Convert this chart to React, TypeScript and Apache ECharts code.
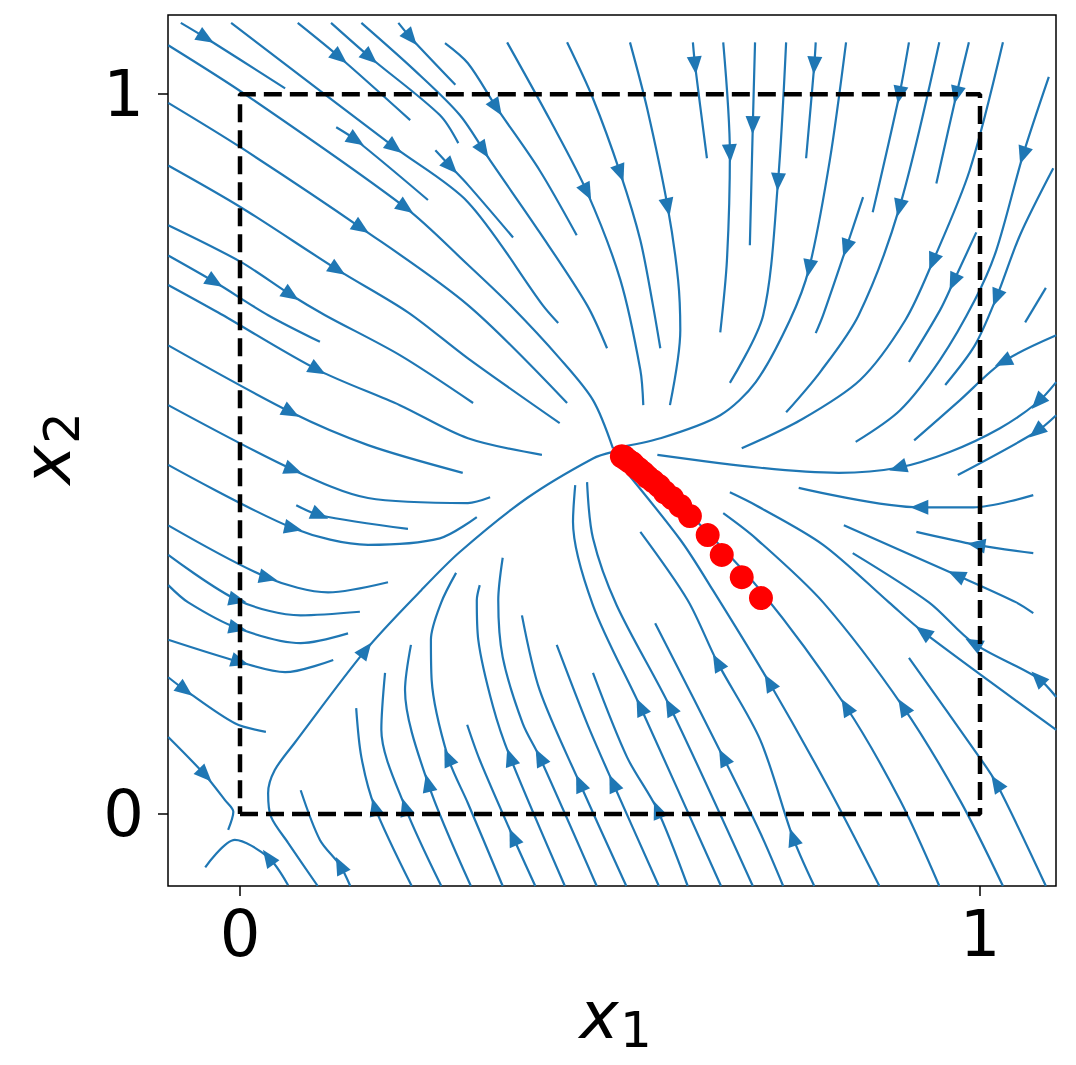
import React, { useEffect, useRef } from "react";
import * as echarts from "echarts";

type Pt = [number, number];

const BLUE = "#1f77b4";

const xTicks = [0, 1];
const yTicks = [0, 1];
const xRange: Pt = [-0.0973, 1.1027];
const yRange: Pt = [-0.1, 1.11];

// streamlines from the upper-left (flowing down-right)
const upperLeftLines: Pt[][] = [
  [[-0.080, 1.099], [-0.046, 1.078], [0.061, 1.008]],
  [[-0.097, 1.068], [0.008, 0.999], [0.224, 0.842], [0.308, 0.763], [0.365, 0.707], [0.432, 0.633], [0.477, 0.575], [0.504, 0.508]],
  [[-0.012, 1.099], [0.209, 0.926], [0.308, 0.850], [0.409, 0.707], [0.430, 0.682]],
  [[0.078, 1.099], [0.135, 1.051], [0.230, 0.964]],
  [[0.123, 1.099], [0.176, 1.051], [0.270, 0.971], [0.295, 0.932]],
  [[0.164, 1.099], [0.236, 1.033], [0.297, 0.971], [0.338, 0.908], [0.405, 0.808], [0.469, 0.707], [0.496, 0.647]],
  [[0.214, 1.099], [0.231, 1.078], [0.291, 1.013]],
  [[0.277, 1.071], [0.308, 1.043], [0.347, 0.981], [0.405, 0.894], [0.455, 0.804]],
  [[0.130, 0.954], [0.157, 0.936], [0.254, 0.853]],
  [[0.264, 0.922], [0.285, 0.899], [0.308, 0.874], [0.369, 0.801]],
  [[-0.097, 0.988], [0.001, 0.926], [0.164, 0.814], [0.308, 0.707], [0.442, 0.571]],
  [[-0.097, 0.901], [0.001, 0.843], [0.132, 0.756], [0.227, 0.697], [0.308, 0.633], [0.432, 0.543]],
  [[-0.097, 0.818], [0.001, 0.767], [0.069, 0.721], [0.115, 0.693], [0.216, 0.6375], [0.315, 0.571]],
  [[-0.097, 0.776], [-0.034, 0.739], [0.038, 0.693], [0.108, 0.656]],
  [[-0.097, 0.735], [-0.030, 0.697], [0.105, 0.617], [0.216, 0.568], [0.308, 0.522], [0.408, 0.499]],
  [[-0.097, 0.651], [0.069, 0.558], [0.173, 0.5125], [0.301, 0.474]],
  [[-0.097, 0.568], [0.072, 0.478], [0.173, 0.439], [0.308, 0.432], [0.338, 0.440]],
  [[0.076, 0.429], [0.108, 0.415], [0.227, 0.396]],
  [[-0.097, 0.485], [0.072, 0.397], [0.173, 0.374], [0.270, 0.383], [0.320, 0.4125]],
  [[-0.097, 0.401], [0.038, 0.328], [0.119, 0.308], [0.2, 0.322]],
  [[-0.097, 0.360], [-0.003, 0.297], [0.082, 0.276], [0.162, 0.281]],
  [[-0.097, 0.318], [-0.070, 0.294], [-0.003, 0.258], [0.082, 0.2375], [0.146, 0.251]],
  [[-0.097, 0.242], [0, 0.211], [0.061, 0.197], [0.126, 0.214]],
  [[-0.097, 0.190], [-0.074, 0.172], [-0.007, 0.126], [0.035, 0.114]],
  [[-0.097, 0.107], [-0.047, 0.054], [-0.020, 0.019], [-0.009, 0.003], [-0.016, -0.022]],
  [[0.065, -0.099], [0.038, -0.060], [-0.007, -0.036], [-0.047, -0.074]],
];

// separatrix rising from the bottom to the fixed point
const separatrix: Pt[] = [
  [0.105, -0.1], [0.065, -0.040], [0.042, -0.004], [0.038, 0.029], [0.047, 0.061], [0.074, 0.099],
  [0.170, 0.228], [0.245, 0.311], [0.297, 0.364], [0.388, 0.439], [0.477, 0.494], [0.504, 0.503],
];

// streamlines from the top (flowing down)
const topLines: Pt[][] = [
  [[0.361, 1.072], [0.419, 0.964], [0.469, 0.864], [0.514, 0.742], [0.541, 0.617], [0.545, 0.568]],
  [[0.442, 1.072], [0.477, 0.994], [0.514, 0.890], [0.541, 0.797], [0.558, 0.707], [0.568, 0.647]],
  [[0.527, 1.072], [0.55, 0.981], [0.578, 0.843], [0.592, 0.742], [0.595, 0.672], [0.581, 0.568]],
  [[0.612, 1.072], [0.615, 1.040], [0.631, 0.911]],
  [[0.653, 1.072], [0.662, 0.918], [0.658, 0.769], [0.649, 0.669]],
  [[0.696, 1.072], [0.693, 0.957], [0.689, 0.790]],
  [[0.738, 1.072], [0.727, 0.878], [0.707, 0.693], [0.662, 0.599]],
  [[0.778, 1.072], [0.776, 1.040], [0.765, 0.911]],
  [[0.904, 1.072], [0.891, 0.999], [0.855, 0.836]],
  [[0.985, 1.072], [0.968, 0.999], [0.941, 0.876]],
];

// streamlines from the upper-right (flowing down-left)
const topRightLines: Pt[][] = [
  [[0.819, 1.072], [0.797, 0.908], [0.769, 0.758], [0.743, 0.686], [0.697, 0.6], [0.649, 0.554], [0.568, 0.522], [0.504, 0.508]],
  [[0.842, 0.857], [0.819, 0.786], [0.788, 0.693], [0.778, 0.668]],
  [[0.945, 1.072], [0.891, 0.842], [0.836, 0.693], [0.784, 0.614], [0.738, 0.558]],
  [[1.031, 1.072], [0.986, 0.894], [0.936, 0.767], [0.899, 0.686], [0.838, 0.603], [0.757, 0.547], [0.678, 0.508]],
  [[0.995, 0.808], [0.964, 0.739], [0.946, 0.7], [0.904, 0.628]],
  [[1.093, 1.024], [1.058, 0.915], [1.022, 0.783], [0.993, 0.714], [0.946, 0.631], [0.892, 0.561], [0.832, 0.517]],
  [[1.099, 0.897], [1.054, 0.804], [1.022, 0.717], [0.993, 0.651], [0.953, 0.596]],
  [[1.103, 0.665], [1.031, 0.628], [0.973, 0.575], [0.911, 0.519]],
  [[1.103, 0.6], [1.078, 0.572], [1.027, 0.536], [0.959, 0.503], [0.889, 0.481], [0.809, 0.474], [0.703, 0.481], [0.564, 0.499]],
  [[1.103, 0.554], [1.076, 0.531], [0.970, 0.471]],
  [[1.089, 0.731], [1.061, 0.683]],
];

// streamlines from the right (flowing left / up-left)
const rightLines: Pt[][] = [
  [[1.072, 0.443], [0.991, 0.426], [0.918, 0.426], [0.755, 0.453]],
  [[1.072, 0.3625], [0.995, 0.374], [0.914, 0.392]],
  [[1.072, 0.279], [1.049, 0.294], [0.968, 0.332], [0.816, 0.401]],
  [[1.103, 0.1625], [1.078, 0.189], [0.991, 0.2375], [0.931, 0.294], [0.828, 0.3625]],
  [[1.103, 0.117], [0.923, 0.253], [0.877, 0.294], [0.788, 0.374], [0.697, 0.429], [0.662, 0.447]],
  [[1.089, -0.1], [1.022, 0.043], [0.995, 0.085], [0.904, 0.217]],
];

// streamlines from the bottom (flowing up-left)
const bottomLines: Pt[][] = [
  [[1.031, -0.1], [0.973, 0.019], [0.896, 0.149], [0.788, 0.294], [0.697, 0.383], [0.653, 0.418]],
  [[0.945, -0.1], [0.892, 0.019], [0.819, 0.149], [0.703, 0.311], [0.592, 0.433]],
  [[0.864, -0.1], [0.797, 0.033], [0.715, 0.183], [0.639, 0.311], [0.595, 0.381], [0.511, 0.489]],
  [[0.776, -0.1], [0.747, -0.032], [0.703, 0.103], [0.645, 0.211], [0.605, 0.297], [0.541, 0.392]],
  [[0.734, -0.1], [0.703, -0.026], [0.653, 0.079], [0.561, 0.265]],
  [[0.693, -0.1], [0.581, 0.149], [0.509, 0.290], [0.477, 0.383], [0.469, 0.461]],
  [[0.65, -0.1], [0.541, 0.149], [0.477, 0.290], [0.45, 0.406], [0.453, 0.457]],
  [[0.605, -0.1], [0.564, 0.006], [0.523, 0.079], [0.477, 0.196]],
  [[0.566, -0.1], [0.504, 0.043], [0.469, 0.126], [0.428, 0.235]],
  [[0.522, -0.1], [0.459, 0.043], [0.405, 0.172], [0.381, 0.276]],
  [[0.482, -0.1], [0.405, 0.079], [0.382, 0.126], [0.355, 0.218], [0.349, 0.297], [0.355, 0.356]],
  [[0.439, -0.1], [0.365, 0.079], [0.342, 0.149], [0.322, 0.242], [0.320, 0.297], [0.324, 0.318]],
  [[0.399, -0.1], [0.369, -0.032], [0.324, 0.075], [0.307, 0.124]],
  [[0.355, -0.1], [0.308, 0.015], [0.281, 0.079], [0.259, 0.186], [0.258, 0.242], [0.272, 0.294], [0.292, 0.335]],
  [[0.312, -0.1], [0.254, 0.043], [0.223, 0.172], [0.231, 0.235]],
  [[0.272, -0.1], [0.223, 0.010], [0.191, 0.117], [0.196, 0.196]],
  [[0.232, -0.1], [0.182, 0.010], [0.164, 0.079], [0.157, 0.147]],
  [[0.149, -0.1], [0.135, -0.071], [0.108, -0.036], [0.082, 0.033]],
];

// arrow-head positions along the streamlines
const arrowPoints: Pt[] = [
  [-0.046, 1.078], [0.135, 1.051], [0.176, 1.051], [0.231, 1.078], [0.157, 0.936], [0.209, 0.926],
  [0.285, 0.899], [0.224, 0.842], [0.164, 0.814], [0.132, 0.756], [0.069, 0.721], [-0.034, 0.739],
  [0.105, 0.617], [0.069, 0.558], [0.072, 0.478], [0.108, 0.415], [0.072, 0.397], [0.038, 0.328],
  [-0.003, 0.297], [-0.003, 0.258], [0, 0.211], [-0.074, 0.172], [-0.047, 0.054], [0.038, -0.060],
  [0.170, 0.228], [0.347, 0.981], [0.329, 0.922], [0.469, 0.864], [0.514, 0.890], [0.578, 0.843],
  [0.615, 1.040], [0.662, 0.918], [0.693, 0.957], [0.727, 0.878], [0.776, 1.040], [0.769, 0.758],
  [0.891, 0.999], [0.891, 0.842], [0.968, 0.999], [0.936, 0.767], [1.058, 0.915], [1.022, 0.717],
  [0.819, 0.786], [0.964, 0.739], [1.031, 0.628], [1.078, 0.572], [0.889, 0.481], [1.076, 0.531],
  [0.918, 0.426], [0.995, 0.374], [0.968, 0.332], [0.991, 0.2375], [1.078, 0.189], [0.923, 0.253],
  [1.022, 0.043], [0.896, 0.149], [0.819, 0.149], [0.715, 0.183], [0.747, -0.032], [0.645, 0.211],
  [0.653, 0.079], [0.581, 0.149], [0.541, 0.149], [0.564, 0.006], [0.504, 0.043], [0.459, 0.043],
  [0.405, 0.079], [0.365, 0.079], [0.369, -0.032], [0.281, 0.079], [0.254, 0.043], [0.223, 0.010],
  [0.182, 0.010], [0.135, -0.071],
];

// optimisation iterates (red dots)
const redPath: Pt[] = [
  [0.704, 0.300], [0.678, 0.329], [0.651, 0.360], [0.632, 0.3875], [0.608, 0.414], [0.595, 0.428],
  [0.584, 0.439], [0.574, 0.447], [0.566, 0.456], [0.558, 0.4625], [0.551, 0.468], [0.545, 0.474],
  [0.539, 0.479], [0.534, 0.483], [0.530, 0.4875], [0.526, 0.490], [0.522, 0.493], [0.519, 0.496],
  [0.516, 0.497],
];

// dashed unit box
const boxCorners: Pt[] = [[0, 0], [1, 0], [1, 1], [0, 1], [0, 0]];

const GRID = { left: 168, top: 15, width: 888, height: 871 };

function arrowAngle(p: Pt, lines: Pt[][]): number {
  const sx = GRID.width / (xRange[1] - xRange[0]);
  const sy = GRID.height / (yRange[1] - yRange[0]);
  let best = Infinity;
  let ang = 0;
  for (const l of lines) {
    for (let i = 0; i < l.length - 1; i++) {
      const ax = l[i][0] * sx, ay = l[i][1] * sy;
      const bx = l[i + 1][0] * sx, by = l[i + 1][1] * sy;
      const px = p[0] * sx, py = p[1] * sy;
      const dx = bx - ax, dy = by - ay;
      const L = dx * dx + dy * dy;
      let t = L > 0 ? ((px - ax) * dx + (py - ay) * dy) / L : 0;
      t = Math.max(0, Math.min(1, t));
      const d = Math.hypot(ax + t * dx - px, ay + t * dy - py);
      if (d < best) {
        best = d;
        ang = (Math.atan2(-dx, dy) * 180) / Math.PI;
      }
    }
  }
  return ang;
}

export default function App() {
  const ref = useRef<HTMLDivElement>(null);
  useEffect(() => {
    if (!ref.current) return;
    const chart = echarts.init(ref.current, undefined, { renderer: "svg" });
    const allLines: Pt[][] = [
      ...upperLeftLines,
      separatrix,
      ...topLines,
      ...topRightLines,
      ...rightLines,
      ...bottomLines,
    ];
    const lineSeries = allLines.map((l) => ({
      type: "line",
      data: l,
      symbol: "none",
      showSymbol: false,
      smooth: 0.3,
      silent: true,
      z: 2,
      lineStyle: { color: BLUE, width: 2.2 },
    }));
    const tickFont = {
      fontSize: 64,
      color: "#000",
      fontFamily: "DejaVu Sans",
    };
    chart.setOption({
      animation: false,
      backgroundColor: "#fff",
      grid: {
        ...GRID,
        show: true,
        borderColor: "#000",
        borderWidth: 1.5,
        backgroundColor: "transparent",
      },
      xAxis: {
        type: "value",
        min: xRange[0],
        max: xRange[1],
        splitLine: { show: false },
        axisLine: { show: false, onZero: false },
        axisTick: {
          show: true,
          customValues: xTicks,
          length: 10,
          lineStyle: { color: "#000", width: 1.5 },
        },
        axisLabel: { customValues: xTicks, margin: 16, ...tickFont },
      },
      yAxis: {
        type: "value",
        min: yRange[0],
        max: yRange[1],
        splitLine: { show: false },
        axisLine: { show: false, onZero: false },
        axisTick: {
          show: true,
          customValues: yTicks,
          length: 10,
          lineStyle: { color: "#000", width: 1.5 },
        },
        axisLabel: { customValues: yTicks, margin: 24, ...tickFont },
      },
      series: [
        ...lineSeries,
        {
          type: "line",
          data: boxCorners,
          symbol: "none",
          silent: true,
          z: 4,
          lineStyle: { color: "#000", width: 4.5, type: [18, 8] },
        },
        {
          type: "scatter",
          data: arrowPoints.map((p) => ({ value: p, symbolRotate: arrowAngle(p, allLines) })),
          symbol: "triangle",
          symbolSize: [15, 18],
          silent: true,
          z: 3,
          itemStyle: { color: BLUE, opacity: 1 },
        },
        {
          type: "scatter",
          data: redPath,
          symbol: "circle",
          symbolSize: 24,
          silent: true,
          z: 5,
          itemStyle: { color: "#ff0000", opacity: 1 },
        },
      ],
      graphic: [
        {
          type: "text",
          x: 599,
          y: 1015,
          style: {
            text: "x",
            font: 'italic 66px "DejaVu Sans"',
            fill: "#000",
            textAlign: "center",
            textVerticalAlign: "middle",
          },
        },
        {
          type: "text",
          x: 636,
          y: 1030,
          style: {
            text: "1",
            font: '50px "DejaVu Sans"',
            fill: "#000",
            textAlign: "center",
            textVerticalAlign: "middle",
          },
        },
        {
          type: "group",
          x: 52,
          y: 465,
          rotation: Math.PI / 2,
          children: [
            {
              type: "text",
              x: 0,
              y: -5,
              style: {
                text: "x",
                font: 'italic 66px "DejaVu Sans"',
                fill: "#000",
                textAlign: "center",
                textVerticalAlign: "middle",
              },
            },
            {
              type: "text",
              x: 37,
              y: 10,
              style: {
                text: "2",
                font: '50px "DejaVu Sans"',
                fill: "#000",
                textAlign: "center",
                textVerticalAlign: "middle",
              },
            },
          ],
        },
      ],
    });
    return () => chart.dispose();
  }, []);
  return (
    <div
      ref={ref}
      style={{ position: "absolute", left: 0, top: 0, width: 1076, height: 1065 }}
    />
  );
}
